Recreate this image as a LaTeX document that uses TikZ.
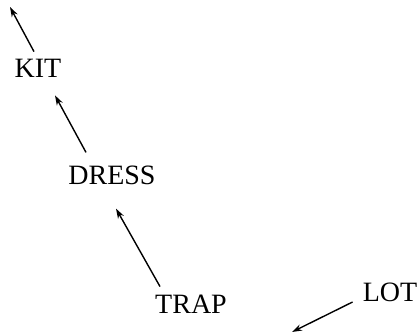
\documentclass[tikz,border=0pt]{standalone}
\usepackage{fontspec}
\setmainfont{Liberation Serif}
\usetikzlibrary{arrows.meta}
\begin{document}
\begin{tikzpicture}[x=1pt,y=1pt,
  word/.style={inner sep=0pt,font=\fontsize{28}{30}\selectfont},
  arr/.style={-{Stealth[length=10pt,width=6.5pt]},line width=1.4pt}]
\useasboundingbox (0,0) rectangle (420,333);
\node[word] (kit) at (38,265) {KIT};
\node[word] (dress) at (112,158) {DRESS};
\node[word] (trap) at (191,29) {TRAP};
\node[word] (lot) at (390,41) {LOT};
\coordinate (kitend) at (10,326);
\coordinate (lotend) at (292,1);
\draw[arr] ([shift={(-4pt,7pt)}]kit.north) -- (kitend);
\draw[arr] ([shift={(-26pt,13pt)}]dress.north) -- ([shift={(17pt,-18pt)}]kit.south);
\draw[arr] ([shift={(-31pt,8pt)}]trap.north) -- ([shift={(4pt,-24pt)}]dress.south);
\draw[arr] ([shift={(-10pt,-10pt)}]lot.west) -- (lotend);
\end{tikzpicture}
\end{document}
